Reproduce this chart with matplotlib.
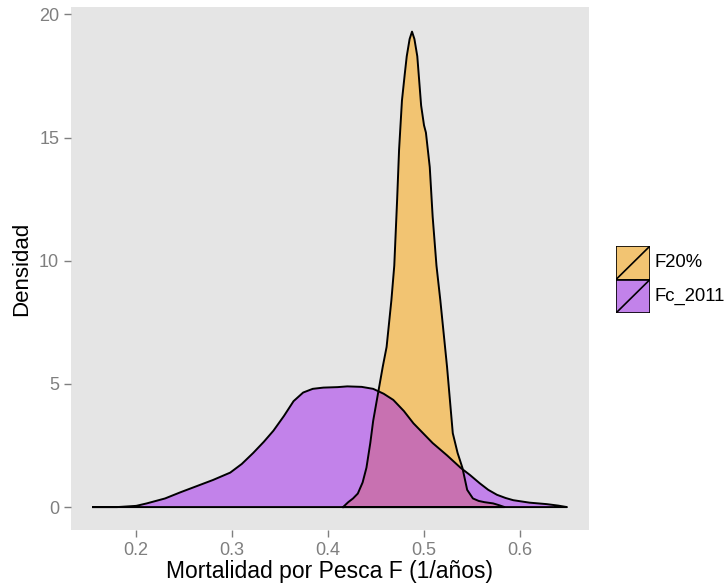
import matplotlib.pyplot as plt
from matplotlib.patches import Rectangle

# curvas de densidad (x = F, y = densidad)
f20_x = [0.4156, 0.421, 0.426, 0.431, 0.436, 0.440, 0.444, 0.447, 0.452, 0.457, 0.461,
         0.466, 0.469, 0.472, 0.474, 0.477, 0.480, 0.482, 0.485, 0.4875, 0.490, 0.493,
         0.497, 0.500, 0.502, 0.506, 0.509, 0.513, 0.517, 0.524, 0.530, 0.535, 0.540,
         0.545, 0.551, 0.557, 0.563, 0.572, 0.578, 0.584]
f20_y = [0.0, 0.2, 0.35, 0.55, 1.0, 1.6, 2.6, 3.5, 4.6, 5.7, 6.5,
         8.4, 9.8, 12.5, 14.5, 16.5, 17.6, 18.3, 19.0, 19.3, 19.0, 18.3,
         16.3, 15.5, 15.2, 13.8, 11.8, 9.8, 8.4, 5.7, 3.0, 2.2, 1.6,
         0.7, 0.35, 0.25, 0.2, 0.15, 0.08, 0.0]

fc_x = [0.155, 0.180, 0.200, 0.211, 0.230, 0.246, 0.263, 0.280, 0.298, 0.310, 0.322,
        0.333, 0.343, 0.354, 0.364, 0.374, 0.384, 0.395, 0.410, 0.420, 0.435, 0.447,
        0.458, 0.468, 0.479, 0.489, 0.499, 0.509, 0.524, 0.538, 0.548, 0.558, 0.567,
        0.576, 0.585, 0.593, 0.610, 0.628, 0.640, 0.649]
fc_y = [0.0, 0.0, 0.05, 0.15, 0.35, 0.6, 0.85, 1.1, 1.4, 1.75, 2.2,
        2.65, 3.1, 3.7, 4.3, 4.65, 4.8, 4.85, 4.87, 4.9, 4.88, 4.8,
        4.6, 4.35, 3.9, 3.4, 3.0, 2.6, 2.1, 1.6, 1.3, 0.97, 0.7,
        0.5, 0.37, 0.28, 0.18, 0.12, 0.06, 0.0]

series = ['F20%', 'Fc_2011']
colores = ['#FFA500', '#A020F0']

x_ticks = [0.2, 0.3, 0.4, 0.5, 0.6]
y_ticks = [0, 5, 10, 15, 20]

plt.rcParams['font.family'] = ['Liberation Sans', 'DejaVu Sans']

fig = plt.figure(figsize=(7.25, 5.88), dpi=100)
ax = fig.add_axes([71 / 725, 58 / 588, 518 / 725, 523 / 588])
ax.set_facecolor('#E5E5E5')

for xs, ys, c in [(f20_x, f20_y, colores[0]), (fc_x, fc_y, colores[1])]:
    ax.fill_between(xs, ys, 0, facecolor=c, alpha=0.5, linewidth=0)
    ax.plot(xs + [xs[0]], ys + [ys[0]], color='black', linewidth=1.4,
            solid_joinstyle='round')

ax.set_xlim(0.132, 0.672)
ax.set_ylim(-0.93, 20.3)
ax.set_xticks(x_ticks)
ax.set_xticklabels([str(t) for t in x_ticks])
ax.set_yticks(y_ticks)
for s in ax.spines.values():
    s.set_visible(False)
ax.tick_params(colors='#7F7F7F', labelcolor='#7F7F7F', labelsize=13, length=5, width=1)
ax.set_xlabel('Mortalidad por Pesca F (1/años)', fontsize=16.5, labelpad=1)
ax.set_ylabel('Densidad', fontsize=16, labelpad=5)

# leyenda dibujada a mano (estilo ggplot)
lax = fig.add_axes([616 / 725, (588 - 313) / 588, 34 / 725, 67 / 588])
lax.set_xlim(0, 1)
lax.set_ylim(0, 2)
lax.axis('off')
for i, (nombre, c) in enumerate(zip(series, colores)):
    y0 = 1 - i
    lax.add_patch(Rectangle((0, y0), 1, 1, facecolor='#E5E5E5', edgecolor='none'))
    lax.add_patch(Rectangle((0, y0), 1, 1, facecolor=c, alpha=0.5, edgecolor='none'))
    lax.add_patch(Rectangle((0, y0), 1, 1, facecolor='none', edgecolor='black', linewidth=1.2))
    lax.plot([0, 1], [y0, y0 + 1], color='black', linewidth=1.2)
    lax.text(1.12, y0 + 0.5, nombre, va='center', ha='left', fontsize=13.3)

fig.savefig('out.png', dpi=100)
